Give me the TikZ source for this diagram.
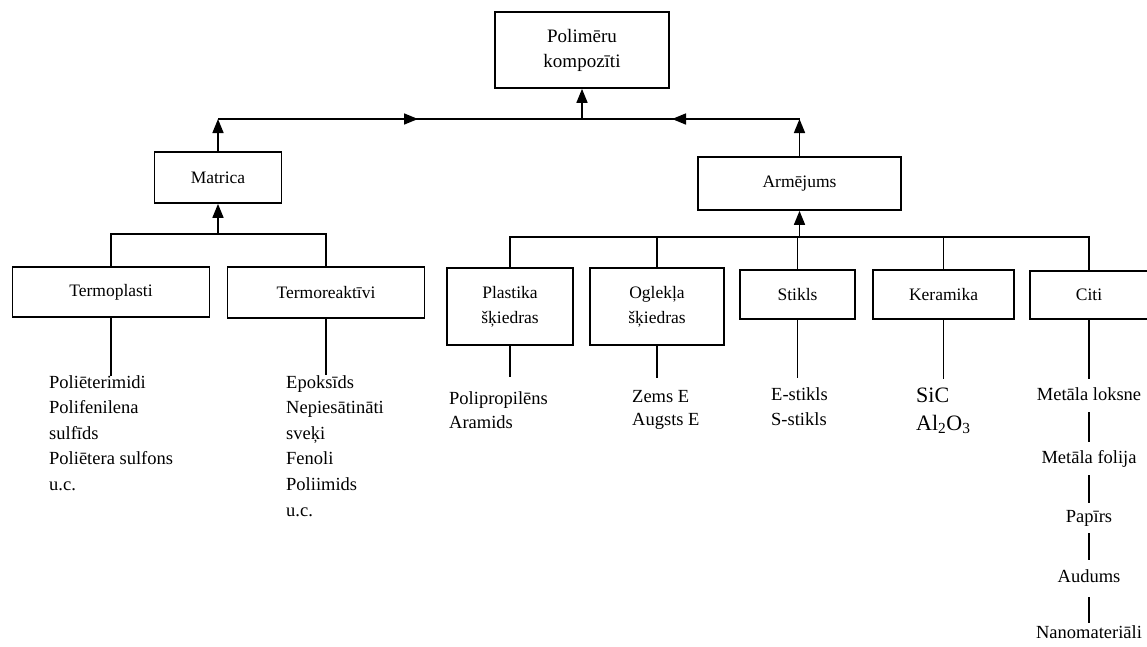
\documentclass[tikz,border=0pt]{standalone}
\usepackage{fontspec}
\setmainfont{Liberation Serif}
\usetikzlibrary{arrows.meta}
\begin{document}
\begin{tikzpicture}[x=1pt,y=-1pt,
  box/.style={draw,line width=1.7pt,inner sep=0pt,align=center,font=\fontsize{17.5}{25}\selectfont},
  conn/.style={line width=1.6pt},
  thin/.style={line width=1.1pt},
  arr/.style={line width=1.6pt,-{Triangle[length=14pt,width=11pt]}},
  item/.style={inner sep=0pt,align=left,anchor=base west,font=\fontsize{18.5}{25.5}\selectfont},
  citem/.style={inner sep=0pt,anchor=base,font=\fontsize{18.5}{21}\selectfont},
]
\useasboundingbox (0,0) rectangle (1147,646);

% boxes
\node[box,minimum width=174pt,minimum height=76pt,font=\fontsize{19}{25}\selectfont] (root) at (582,50)
  {\raisebox{-8pt}{\begin{tabular}{@{}c@{}}Polimēru\\kompozīti\end{tabular}}};
\node[box,minimum width=127pt,minimum height=51pt] (matrica) at (218,177.5) {Matrica};
\node[box,minimum width=203pt,minimum height=53pt] (arm) at (799.5,183.5) {Armējums};
\node[box,minimum width=197pt,minimum height=50pt] (termop) at (111,292) {Termoplasti};
\node[box,minimum width=197pt,minimum height=51pt] (termor) at (326,292.5) {Termoreaktīvi};
\node[box,minimum width=126pt,minimum height=77pt] (plast) at (510,306.5) {Plastika\\šķiedras};
\node[box,minimum width=134pt,minimum height=77pt] (ogl) at (657,306.5) {Oglekļa\\šķiedras};
\node[box,minimum width=115pt,minimum height=49pt] (stikls) at (797.5,294.5) {Stikls};
\node[box,minimum width=141pt,minimum height=49pt] (keram) at (943.5,294.5) {Keramika};
\node[box,minimum width=118pt,minimum height=48pt] (citi) at (1089,295) {Citi};

% top level connectors
\coordinate (jl) at (218,119);
\coordinate (jr) at (799.5,119);
\coordinate (ma) at (418,119);
\coordinate (mb) at (672,119);
\draw[conn] (jl) -- (jr);
\draw[arr] (jl) -- (ma);
\draw[arr] (jr) -- (mb);
\draw[arr] (root.south |- jl) -- (root.south);
\draw[arr] (matrica.north) -- (jl);
\draw[arr] (arm.north) -- (jr);

% matrica children
\coordinate (bm) at (218,234);
\draw[conn] (termop.north) |- (bm) -| (termor.north);
\draw[arr] (bm) -- (matrica.south);

% armejums children
\coordinate (ba) at (799.5,237);
\draw[conn] (plast.north) |- (ba) -| (citi.north);
\draw[conn] (ogl.north) -- (ogl.north |- ba);
\draw[conn] (stikls.north) -- (stikls.north |- ba);
\draw[conn] (keram.north) -- (keram.north |- ba);
\draw[arr] (ba) -- (arm.south);

% stems
\coordinate (s1) at (111,376);
\coordinate (s2) at (326,375);
\coordinate (s3) at (510,377);
\coordinate (s4) at (657,378);
\coordinate (s5) at (797.5,378);
\coordinate (s6) at (943.5,379);
\coordinate (s7) at (1089,379);
\draw[conn] (termop.south) -- (s1);
\draw[conn] (termor.south) -- (s2);
\draw[conn] (plast.south) -- (s3);
\draw[conn] (ogl.south) -- (s4);
\draw[conn] (stikls.south) -- (s5);
\draw[conn] (keram.south) -- (s6);
\draw[conn] (citi.south) -- (s7);

% item lists (base anchor = last line's baseline)
\node[item] (i1) at (49,490) {Poliēterimidi\\Polifenilena\\sulfīds\\Poliētera sulfons\\u.c.};
\node[item,font=\fontsize{18.5}{25.6}\selectfont] (i2) at (286,516) {Epoksīds\\Nepiesātināti\\sveķi\\Fenoli\\Poliimids\\u.c.};
\node[item,font=\fontsize{18.5}{24}\selectfont] (i3) at (449,428) {Polipropilēns\\Aramids};
\node[item,font=\fontsize{18.5}{23}\selectfont] (i4) at (632,425) {Zems E\\Augsts E};
\node[item,font=\fontsize{18.5}{25}\selectfont] (i5) at (771,425) {E-stikls\\S-stikls};
\node[item,font=\fontsize{22}{28}\selectfont] (i6) at (916,430) {SiC\\Al\textsubscript{2}O\textsubscript{3}};

\node[citem] (c1) at (1089,400) {Metāla loksne};
\node[citem] (c2) at (1089,463) {Metāla folija};
\node[citem] (c3) at (1089,522) {Papīrs};
\node[citem] (c4) at (1089,582) {Audums};
\node[citem] (c5) at (1089,638) {Nanomateriāli};
\draw[thin] ([yshift=-12pt]c1.base) -- ([yshift=21pt]c2.base);
\draw[thin] ([yshift=-12pt]c2.base) -- ([yshift=19pt]c3.base);
\draw[thin] ([yshift=-11pt]c3.base) -- ([yshift=22pt]c4.base);
\draw[thin] ([yshift=-15pt]c4.base) -- ([yshift=15pt]c5.base);
\end{tikzpicture}
\end{document}
